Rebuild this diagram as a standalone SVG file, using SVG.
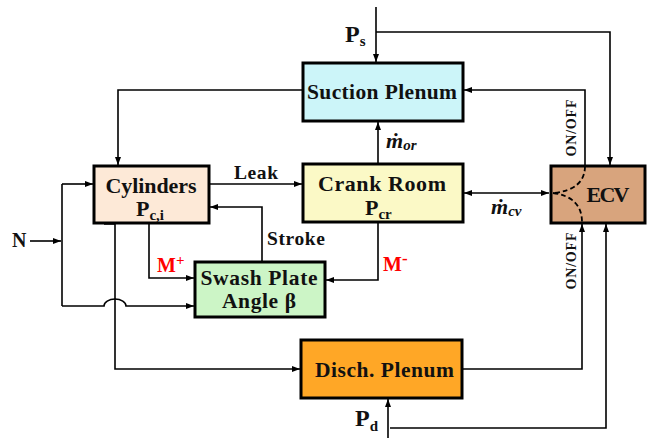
<svg xmlns="http://www.w3.org/2000/svg" width="657" height="438" viewBox="0 0 657 438">
<defs>
<marker id="ah" viewBox="0 0 8 6" refX="8" refY="3" markerWidth="8" markerHeight="6" markerUnits="userSpaceOnUse" orient="auto-start-reverse">
<path d="M0,0 L8,3 L0,6 z" fill="#000"/>
</marker>
</defs>
<style>
.box{stroke:#000;stroke-width:3}
.t{font-family:"Liberation Serif","Times New Roman",serif;font-weight:bold;fill:#111}
.c{fill:none;stroke:#000;stroke-width:1.6}
.a{marker-end:url(#ah)}
.dash{fill:none;stroke:#000;stroke-width:1.8;stroke-dasharray:5,3}
.red{fill:#ff0000}
</style>
<rect width="657" height="438" fill="#fff"/>
<g id="connectors">
<path class="c a" d="M376,7 V62"/>
<path class="c a" d="M376,32 H610 V165"/>
<path class="c a" d="M585,165 V90 H464"/>
<path class="c a" d="M303,90 H118 V165"/>
<path class="c a" d="M378,164 V122"/>
<path class="c a" d="M209,184 H302"/>
<path class="c a" d="M262,262 V207 H210"/>
<path class="c a" d="M149,223 V278 H194"/>
<path class="c a" d="M378,222 V280 H326"/>
<path class="c a" d="M30,241 H61"/>
<path class="c" d="M62,184 V306"/>
<path class="c a" d="M62,184 H93"/>
<path class="c a" d="M62,306 H104 A11,7 0 0 1 126,306 H194"/>
<path class="c a" d="M104,224 H115 V369 H300"/>
<path class="c a" d="M464,193 H549" style="marker-start:url(#ah)"/>
<path class="c a" d="M462,369 H582 V224"/>
<path class="c a" d="M388,438 V399"/>
<path class="c a" d="M390,428 H606 V224"/>
</g>
<g id="suction">
<rect class="box" x="303" y="63" width="160" height="58" fill="#ccf5f9"/>
<text class="t" x="382" y="99" font-size="21.5" text-anchor="middle" textLength="150" lengthAdjust="spacing">Suction Plenum</text>
</g>
<g id="cylinders">
<rect class="box" x="94" y="166" width="115" height="57" fill="#fde9d7"/>
<text class="t" x="151" y="193" font-size="22" text-anchor="middle" textLength="91" lengthAdjust="spacing">Cylinders</text>
<text class="t" x="136" y="216" font-size="22">P<tspan font-size="15" dy="4">c,i</tspan></text>
</g>
<g id="crank">
<rect class="box" x="303" y="164" width="160" height="58" fill="#fbf9c6"/>
<text class="t" x="382" y="191" font-size="22" text-anchor="middle" textLength="128" lengthAdjust="spacing">Crank Room</text>
<text class="t" x="365" y="215" font-size="22">P<tspan font-size="15" dy="4">cr</tspan></text>
</g>
<g id="swash">
<rect class="box" x="195" y="262" width="130" height="55" fill="#ccf5c6"/>
<text class="t" x="259" y="285" font-size="21.5" text-anchor="middle" textLength="117" lengthAdjust="spacing">Swash Plate</text>
<text class="t" x="259" y="308" font-size="21.5" text-anchor="middle" textLength="74" lengthAdjust="spacing">Angle β</text>
</g>
<g id="disch">
<rect class="box" x="301" y="340" width="161" height="58" fill="#ffa726"/>
<text class="t" x="384.5" y="377" font-size="21.5" text-anchor="middle" textLength="139" lengthAdjust="spacing">Disch. Plenum</text>
</g>
<g id="ecv">
<rect class="box" x="551" y="166" width="94" height="57" fill="#d8a47d"/>
<path class="dash" d="M585,166 Q585,190 553,193"/>
<path class="dash" d="M553,193 Q582,197 582,222"/>
<text class="t" x="608" y="202" font-size="22" text-anchor="middle" textLength="43" lengthAdjust="spacing">ECV</text>
</g>
<g id="labels">
<text class="t" x="345" y="42" font-size="24">P<tspan font-size="15" dy="4">s</tspan></text>
<text class="t" x="355" y="426" font-size="24">P<tspan font-size="15" dy="5">d</tspan></text>
<text class="t" x="12" y="247" font-size="20">N</text>
<text class="t" x="234" y="179" font-size="19.5" textLength="44" lengthAdjust="spacing">Leak</text>
<text class="t" x="267" y="245" font-size="19.5" textLength="58" lengthAdjust="spacing">Stroke</text>
<text class="t red" x="157" y="272" font-size="20">M<tspan font-size="15" dy="-7">+</tspan></text>
<text class="t red" x="383" y="271" font-size="20">M<tspan font-size="17" dy="-7">-</tspan></text>
<text class="t" x="386" y="148" font-size="22" font-style="italic">ṁ<tspan font-size="15" dy="2">or</tspan></text>
<text class="t" x="491" y="214" font-size="22" font-style="italic">ṁ<tspan font-size="15" dy="2">cv</tspan></text>
<text class="t" font-size="14" text-anchor="middle" transform="translate(576,128) rotate(-90)" textLength="57" lengthAdjust="spacing">ON/OFF</text>
<text class="t" font-size="14" text-anchor="middle" transform="translate(576,261) rotate(-90)" textLength="57" lengthAdjust="spacing">ON/OFF</text>
</g>
</svg>
